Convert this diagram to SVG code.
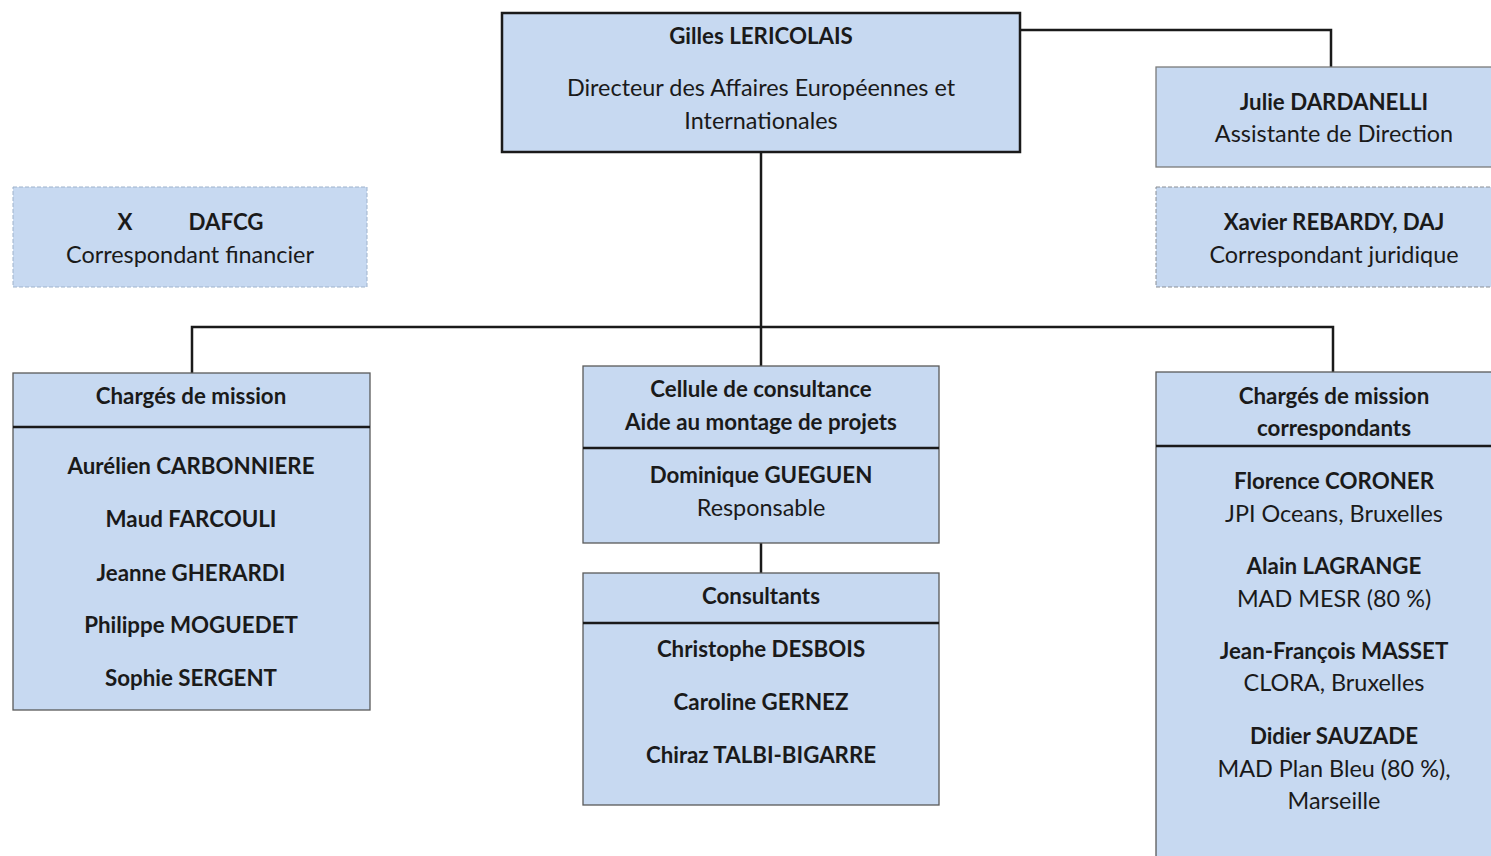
<svg xmlns="http://www.w3.org/2000/svg" width="1491" height="856" viewBox="0 0 1491 856">
<style>
text{font-family:Lato,"Open Sans","Liberation Sans",sans-serif;font-size:23.4px;fill:#1a1a1a;text-anchor:middle;dominant-baseline:central}
.b{font-weight:bold;font-size:22.3px}
.box{fill:#c7d9f1;stroke:#5a5a5a;stroke-width:1.3}
.top{fill:#c7d9f1;stroke:#1a1a1a;stroke-width:2.5}
.dash{fill:#c7d9f1;stroke:#8a8f96;stroke-width:1;stroke-dasharray:4 2}
.sep{stroke:#1a1a1a;stroke-width:2.5}
.con{fill:none;stroke:#1a1a1a;stroke-width:2.5}
</style>
<rect width="1491" height="856" fill="#fff"/>
<g id="connectors">
<path class="con" d="M1020 30 H1331 V67"/>
<path class="con" d="M761 152 V327"/>
<path class="con" d="M192 373 V327 H1333 V372"/>
<path class="con" d="M761 327 V366"/>
<path class="con" d="M761 543 V573"/>
</g>
<g id="director">
<rect class="top" x="502" y="13" width="518" height="139"/>
<text class="b" x="761" y="35">Gilles LERICOLAIS</text>
<text x="761" y="87">Directeur des Affaires Européennes et</text>
<text x="761" y="120">Internationales</text>
</g>
<g id="assistante">
<rect class="box" x="1156" y="67" width="345" height="100" style="stroke:#7a7a7a"/>
<text class="b" x="1334" y="101">Julie DARDANELLI</text>
<text x="1334" y="133">Assistante de Direction</text>
</g>
<g id="juridique">
<rect class="dash" x="1156" y="187" width="345" height="100"/>
<text class="b" x="1334" y="221">Xavier REBARDY, DAJ</text>
<text x="1334" y="254">Correspondant juridique</text>
</g>
<g id="financier">
<rect class="dash" x="13" y="187" width="354" height="100" style="stroke:#9fb3cc"/>
<text class="b" x="125" y="221">X</text>
<text class="b" x="226" y="221">DAFCG</text>
<text x="190" y="254">Correspondant financier</text>
</g>
<g id="charges-mission">
<rect class="box" x="13" y="373" width="357" height="337"/>
<line class="sep" x1="13" y1="427" x2="370" y2="427"/>
<text class="b" x="191" y="395">Chargés de mission</text>
<text class="b" x="191" y="465">Aurélien CARBONNIERE</text>
<text class="b" x="191" y="518">Maud FARCOULI</text>
<text class="b" x="191" y="572">Jeanne GHERARDI</text>
<text class="b" x="191" y="624">Philippe MOGUEDET</text>
<text class="b" x="191" y="677">Sophie SERGENT</text>
</g>
<g id="cellule">
<rect class="box" x="583" y="366" width="356" height="177"/>
<line class="sep" x1="583" y1="448" x2="939" y2="448"/>
<text class="b" x="761" y="388">Cellule de consultance</text>
<text class="b" x="761" y="421">Aide au montage de projets</text>
<text class="b" x="761" y="474">Dominique GUEGUEN</text>
<text x="761" y="507">Responsable</text>
</g>
<g id="consultants">
<rect class="box" x="583" y="573" width="356" height="232"/>
<line class="sep" x1="583" y1="623" x2="939" y2="623"/>
<text class="b" x="761" y="595">Consultants</text>
<text class="b" x="761" y="648">Christophe DESBOIS</text>
<text class="b" x="761" y="701">Caroline GERNEZ</text>
<text class="b" x="761" y="754">Chiraz TALBI-BIGARRE</text>
</g>
<g id="correspondants">
<rect class="box" x="1156" y="372" width="345" height="500"/>
<line class="sep" x1="1156" y1="446" x2="1491" y2="446"/>
<text class="b" x="1334" y="395">Chargés de mission</text>
<text class="b" x="1334" y="427">correspondants</text>
<text class="b" x="1334" y="480">Florence CORONER</text>
<text x="1334" y="513">JPI Oceans, Bruxelles</text>
<text class="b" x="1334" y="565">Alain LAGRANGE</text>
<text x="1334" y="598">MAD MESR (80 %)</text>
<text class="b" x="1334" y="650">Jean-François MASSET</text>
<text x="1334" y="682">CLORA, Bruxelles</text>
<text class="b" x="1334" y="735">Didier SAUZADE</text>
<text x="1334" y="768">MAD Plan Bleu (80 %),</text>
<text x="1334" y="800">Marseille</text>
</g>
</svg>
